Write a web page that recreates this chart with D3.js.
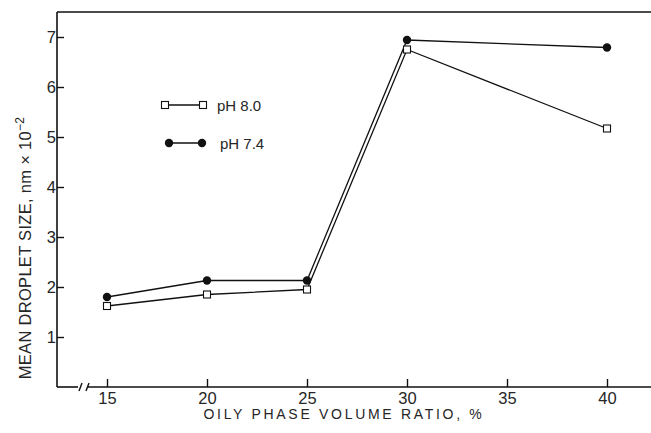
<!DOCTYPE html>
<html>
<head>
<meta charset="utf-8">
<script src="https://cdn.jsdelivr.net/npm/d3@7"></script>
<style>
  html, body { margin: 0; padding: 0; background: #fff; }
  svg { display: block; }
  text { font-family: "Liberation Sans", Arial, sans-serif; fill: #262626; }
</style>
</head>
<body>
<svg id="chart" width="651" height="433"></svg>
<script>
// ---- data ----
const ratios = [15, 20, 25, 30, 40];
const ph80 = [1.62, 1.85, 1.95, 6.75, 5.17];
const ph74 = [1.80, 2.13, 2.13, 6.94, 6.79];
const xTicks = [15, 20, 25, 30, 35, 40];
const yTicks = [1, 2, 3, 4, 5, 6, 7];
const seriesNames = ["pH 8.0", "pH 7.4"];

// ---- layout ----
const svg = d3.select("#chart");
const pLeft = 57, pRight = 651, pTop = 12, pBottom = 387;
const x = d3.scaleLinear().domain([12.5, 42.2]).range([pLeft, pRight]);
const y = d3.scaleLinear().domain([0, 7.5]).range([pBottom, pTop]);
const ink = "#111";
const fontFam = "Liberation Sans, Arial, sans-serif";

// frame: left axis + top line
svg.append("line").attr("x1", pLeft).attr("x2", pLeft).attr("y1", pTop).attr("y2", pBottom)
  .attr("stroke", ink).attr("stroke-width", 1.6);
svg.append("line").attr("x1", pLeft).attr("x2", pRight).attr("y1", pTop).attr("y2", pTop)
  .attr("stroke", ink).attr("stroke-width", 1.3);

// bottom axis with break
svg.append("line").attr("x1", pLeft).attr("x2", 78).attr("y1", pBottom).attr("y2", pBottom)
  .attr("stroke", ink).attr("stroke-width", 1.6);
svg.append("line").attr("x1", 88).attr("x2", pRight).attr("y1", pBottom).attr("y2", pBottom)
  .attr("stroke", ink).attr("stroke-width", 1.4);
[80.5, 87.5].forEach(bx => {
  svg.append("path").attr("d", `M${bx - 1.5},${pBottom + 4} L${bx + 1.5},${pBottom - 4}`)
    .attr("stroke", ink).attr("stroke-width", 1.4).attr("fill", "none");
});

// x axis ticks (inward) and labels
const xAxis = d3.axisBottom(x).tickValues(xTicks).tickSize(0).tickPadding(0).tickFormat(d3.format("d"));
const gx = svg.append("g").attr("transform", `translate(0,${pBottom})`).call(xAxis);
gx.select(".domain").remove();
gx.selectAll(".tick line").attr("y1", 0).attr("y2", -8).attr("stroke", ink).attr("stroke-width", 1.4);
gx.selectAll(".tick text").attr("y", 17).attr("dy", 0).attr("font-size", 16.5)
  .attr("font-family", fontFam).attr("fill", "#262626");

// y axis ticks (inward) and labels
const yAxis = d3.axisLeft(y).tickValues(yTicks).tickSize(0).tickPadding(0).tickFormat(d3.format("d"));
const gy = svg.append("g").attr("transform", `translate(${pLeft},0)`).call(yAxis);
gy.select(".domain").remove();
gy.selectAll(".tick line").attr("x1", 0).attr("x2", 7).attr("stroke", ink).attr("stroke-width", 1.4);
gy.selectAll(".tick text").attr("x", -1).attr("dy", "0.36em").attr("font-size", 16.5)
  .attr("font-family", fontFam).attr("fill", "#262626");

// axis titles
svg.append("text").attr("x", 344).attr("y", 419).attr("text-anchor", "middle")
  .attr("font-size", 14).attr("letter-spacing", 2.7).text("OILY PHASE VOLUME RATIO, %");

const yt = svg.append("text").attr("transform", "translate(31,248) rotate(-90)")
  .attr("text-anchor", "middle").attr("font-size", 16.5).attr("letter-spacing", 0.3);
yt.append("tspan").text("MEAN DROPLET SIZE, nm × 10");
yt.append("tspan").attr("dy", -7).attr("font-size", 12).text("−2");

// series lines
const line = d3.line().x((d, i) => x(ratios[i])).y(d => y(d));
svg.append("path").datum(ph80).attr("d", line).attr("fill", "none").attr("stroke", ink).attr("stroke-width", 1.3);
svg.append("path").datum(ph74).attr("d", line).attr("fill", "none").attr("stroke", ink).attr("stroke-width", 1.3);

// markers
const sq = 7;
svg.selectAll(".m80").data(ph80).join("rect")
  .attr("x", (d, i) => x(ratios[i]) - sq / 2).attr("y", d => y(d) - sq / 2)
  .attr("width", sq).attr("height", sq).attr("fill", "#fff").attr("stroke", ink).attr("stroke-width", 1.1);
svg.selectAll(".m74").data(ph74).join("circle")
  .attr("cx", (d, i) => x(ratios[i])).attr("cy", d => y(d)).attr("r", 4.2).attr("fill", ink);

// legend
const lg = svg.append("g");
lg.append("line").attr("x1", 165).attr("x2", 203).attr("y1", 105).attr("y2", 105).attr("stroke", ink).attr("stroke-width", 1.3);
[165, 203].forEach(cx => lg.append("rect").attr("x", cx - 3.5).attr("y", 105 - 3.5).attr("width", 7).attr("height", 7)
  .attr("fill", "#fff").attr("stroke", ink).attr("stroke-width", 1.1));
lg.append("text").attr("x", 217).attr("y", 110.5).attr("font-size", 15).text(seriesNames[0]);
lg.append("line").attr("x1", 169).attr("x2", 202).attr("y1", 143).attr("y2", 143).attr("stroke", ink).attr("stroke-width", 1.3);
[169, 202].forEach(cx => lg.append("circle").attr("cx", cx).attr("cy", 143).attr("r", 4.2).attr("fill", ink));
lg.append("text").attr("x", 220).attr("y", 148.5).attr("font-size", 15).text(seriesNames[1]);
</script>
</body>
</html>
